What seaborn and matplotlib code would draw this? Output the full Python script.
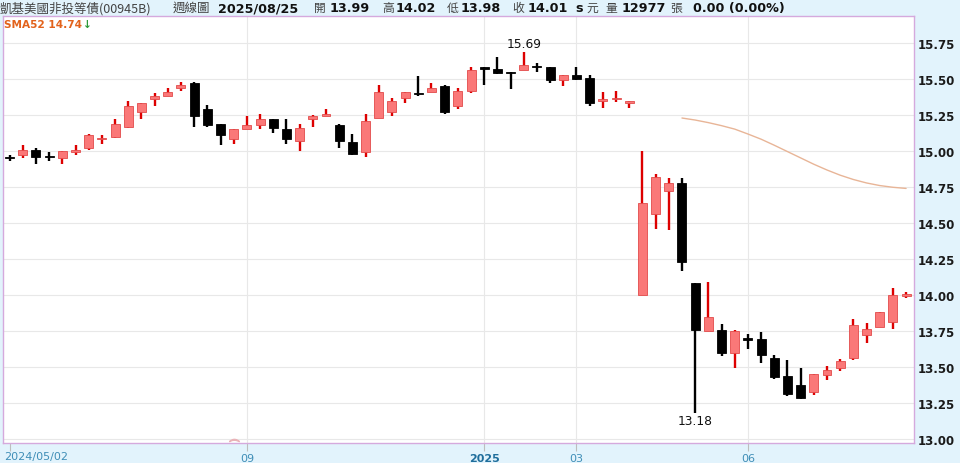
import numpy as np
import pandas as pd
import seaborn as sns
import matplotlib
matplotlib.use("Agg")
import matplotlib.pyplot as plt
import matplotlib.transforms as mtransforms

# weekly candles, 2024/05/02 .. 2025/08/25 (Lunar New Year week missing)
opens = [14.96, 14.97, 15.01, 14.96, 14.95, 14.99, 15.02, 15.08, 15.10, 15.17,
         15.27, 15.36, 15.38, 15.44, 15.47, 15.29, 15.19, 15.08, 15.15, 15.18,
         15.22, 15.15, 15.07, 15.22, 15.245, 15.18, 15.06, 14.99, 15.23, 15.27,
         15.37, 15.40, 15.41, 15.45, 15.31, 15.42, 15.58, 15.57, 15.545, 15.56,
         15.59, 15.58, 15.49, 15.53, 15.51, 15.35, 15.36, 15.335, 14.00, 14.56,
         14.72, 14.78, 14.08, 13.75, 13.76, 13.60, 13.70, 13.695, 13.56, 13.44,
         13.375, 13.325, 13.445, 13.49, 13.56, 13.72, 13.78, 13.81, 13.99]
highs = [14.97, 15.04, 15.02, 14.99, 15.00, 15.04, 15.12, 15.11, 15.22, 15.35,
         15.33, 15.40, 15.44, 15.48, 15.48, 15.32, 15.19, 15.15, 15.245, 15.26,
         15.22, 15.22, 15.19, 15.25, 15.29, 15.19, 15.12, 15.26, 15.46, 15.37,
         15.41, 15.52, 15.47, 15.46, 15.44, 15.58, 15.58, 15.655, 15.55, 15.69,
         15.61, 15.585, 15.53, 15.585, 15.53, 15.41, 15.42, 15.345, 15.00, 14.84,
         14.81, 14.81, 14.08, 14.09, 13.80, 13.755, 13.73, 13.745, 13.58, 13.545,
         13.49, 13.45, 13.51, 13.555, 13.83, 13.805, 13.88, 14.05, 14.02]
lows = [14.93, 14.95, 14.91, 14.93, 14.91, 14.97, 15.01, 15.05, 15.09, 15.16,
        15.22, 15.31, 15.38, 15.42, 15.165, 15.17, 15.04, 15.05, 15.15, 15.15,
        15.125, 15.05, 15.00, 15.17, 15.24, 15.02, 14.97, 14.96, 15.23, 15.24,
        15.33, 15.38, 15.41, 15.26, 15.29, 15.40, 15.46, 15.535, 15.43, 15.56,
        15.55, 15.47, 15.45, 15.49, 15.31, 15.30, 15.34, 15.30, 14.00, 14.46,
        14.45, 14.165, 13.18, 13.75, 13.575, 13.49, 13.625, 13.525, 13.415, 13.295,
        13.28, 13.305, 13.41, 13.47, 13.55, 13.665, 13.775, 13.765, 13.98]
closes = [14.95, 15.01, 14.96, 14.955, 15.00, 15.01, 15.11, 15.09, 15.19, 15.31,
          15.33, 15.38, 15.41, 15.46, 15.24, 15.18, 15.11, 15.15, 15.18, 15.22,
          15.16, 15.08, 15.16, 15.24, 15.26, 15.07, 14.98, 15.21, 15.41, 15.35,
          15.41, 15.395, 15.44, 15.27, 15.415, 15.56, 15.57, 15.54, 15.54, 15.60,
          15.58, 15.49, 15.53, 15.50, 15.33, 15.36, 15.37, 15.345, 14.64, 14.82,
          14.78, 14.23, 13.76, 13.85, 13.60, 13.75, 13.69, 13.585, 13.43, 13.31,
          13.285, 13.45, 13.48, 13.54, 13.79, 13.765, 13.88, 14.00, 14.01]

# 52-week moving average, shown from the 52nd candle on
sma_first = 51
sma52 = [15.229, 15.215, 15.197, 15.176, 15.152, 15.118, 15.082, 15.040, 14.996,
         14.952, 14.908, 14.868, 14.832, 14.802, 14.778, 14.760, 14.748, 14.740]

tick_idx = [0, 18, 36, 43, 56]
tick_labels = ["2024/05/02", "09", "2025", "03", "06"]
y_ticks = [13.00, 13.25, 13.50, 13.75, 14.00, 14.25, 14.50, 14.75, 15.00, 15.25, 15.50, 15.75]

BG = "#E2F3FC"
UP_FILL = "#FA7878"
UP_EDGE = "#E24A4A"
UP_WICK = "#DD0000"
DOWN = "#000000"

df = pd.DataFrame({"open": opens, "high": highs, "low": lows, "close": closes})
df["idx"] = np.arange(len(df))
df["up"] = df["close"] >= df["open"]

sns.set_theme(style="white")
plt.rcParams["font.family"] = ["DejaVu Sans", "Noto Sans CJK TC"]

fig = plt.figure(figsize=(9.6, 4.64), dpi=100, facecolor=BG)
ax = fig.add_axes([3 / 960, 20 / 464, 911 / 960, 427 / 464])
ax.set_facecolor("white")

# grid
for v in y_ticks:
    ax.axhline(v, color="#E8E8E8", lw=0.8, zorder=0)
for i in tick_idx[1:]:
    ax.axvline(i, color="#E8E8E8", lw=0.8, zorder=0)

# SMA line
sns.lineplot(x=np.arange(sma_first, sma_first + len(sma52)), y=sma52, ax=ax,
             color="#E8B597", lw=1.0, zorder=1)

# candles
wick_colors = [UP_WICK if u else DOWN for u in df["up"]]
ax.vlines(df["idx"], df["low"], df["high"], colors=wick_colors, lw=1.7, zorder=2)
body_h = np.maximum((df["close"] - df["open"]).abs(), 0.008)
body_b = np.minimum(df["open"], df["close"])
ax.bar(df["idx"], body_h, bottom=body_b, width=0.68,
       color=[UP_FILL if u else DOWN for u in df["up"]],
       edgecolor=[UP_EDGE if u else DOWN for u in df["up"]],
       linewidth=0.6, zorder=3)

ax.set_xlim(-0.5, 68.6)
ax.set_ylim(12.972, 15.9375)

# high / low labels
hi = int(np.argmax(highs))
lo = int(np.argmin(lows))
off = lambda dy: mtransforms.offset_copy(ax.transData, fig=fig, x=0, y=dy, units="dots")
ax.text(hi, highs[hi], f"{highs[hi]:.2f}", transform=off(2), ha="center", va="bottom",
        fontsize=8.8, color="#111111")
ax.text(lo, lows[lo], f"{lows[lo]:.2f}", transform=off(-1), ha="center", va="top",
        fontsize=8.8, color="#111111")

# small dividend mark at the bottom
ax.plot([17.0], [12.992], marker=r"$\frown$", ms=7, color="#E9B3B8", zorder=4, clip_on=False)

# axes
ax.yaxis.tick_right()
ax.set_yticks(y_ticks)
ax.set_yticklabels([f"{v:.2f}" for v in y_ticks])
ax.tick_params(axis="y", length=0, pad=3, labelsize=8.5, labelcolor="#1A1A1A")
for lab in ax.get_yticklabels():
    lab.set_fontweight("bold")

ax.set_xticks(tick_idx)
ax.set_xticklabels([""] + tick_labels[1:])
ax.tick_params(axis="x", length=6, width=0.8, color="#BDBDBD", direction="out",
               pad=1, labelsize=8, labelcolor="#3F8EB7", bottom=True)
for lab in ax.get_xticklabels():
    if lab.get_text() == "2025":
        lab.set_fontweight("bold")
        lab.set_color("#1F6E9C")
ax.text(-0.42, -13 / 427, tick_labels[0], transform=mtransforms.blended_transform_factory(ax.transData, ax.transAxes),
        ha="left", va="center", fontsize=8, color="#3F8EB7")

for sp in ax.spines.values():
    sp.set_color("#D5A9DD")
    sp.set_linewidth(1.0)

# SMA legend
ax.text(1 / 911, 1 - 8 / 427, f"SMA52 {sma52[-1]:.2f}", transform=ax.transAxes, ha="left", va="center",
        fontsize=7.6, fontweight="bold", color="#E2621B")
ax.text(80 / 911, 1 - 8 / 427, "↓", transform=ax.transAxes, ha="left", va="center",
        fontsize=7.6, fontweight="bold", color="#2E9A3A")

# header line
cjk = ["Noto Sans CJK TC", "DejaVu Sans"]
hy = 1 - 8.5 / 464
header = [
    (0, "凱基美國非投等債(00945B)", "cjk", 9),
    (173, "週線圖", "cjk", 9),
    (218, "2025/08/25", "num", 9.2),
    (314, "開", "cjk", 8.5),
    (330, "13.99", "num", 9.2),
    (382, "高", "cjk", 8.5),
    (396, "14.02", "num", 9.2),
    (447, "低", "cjk", 8.5),
    (461, "13.98", "num", 9.2),
    (512, "收", "cjk", 8.5),
    (528, "14.01", "num", 9.2),
    (575, "s", "num", 9.2),
    (586, "元", "cjk", 8.5),
    (605, "量", "cjk", 8.5),
    (622, "12977", "num", 9.2),
    (670, "張", "cjk", 8.5),
    (693, "0.00 (0.00%)", "num", 9.2),
]
for x, s, kind, fs in header:
    if kind == "cjk":
        fig.text(x / 960, hy, s, ha="left", va="center", fontsize=fs, color="#444444", family=cjk)
    else:
        fig.text(x / 960, hy, s, ha="left", va="center", fontsize=fs, color="#111111",
                 fontweight="bold", family=["DejaVu Sans"])

fig.savefig("out.png", dpi=100, facecolor=BG)
